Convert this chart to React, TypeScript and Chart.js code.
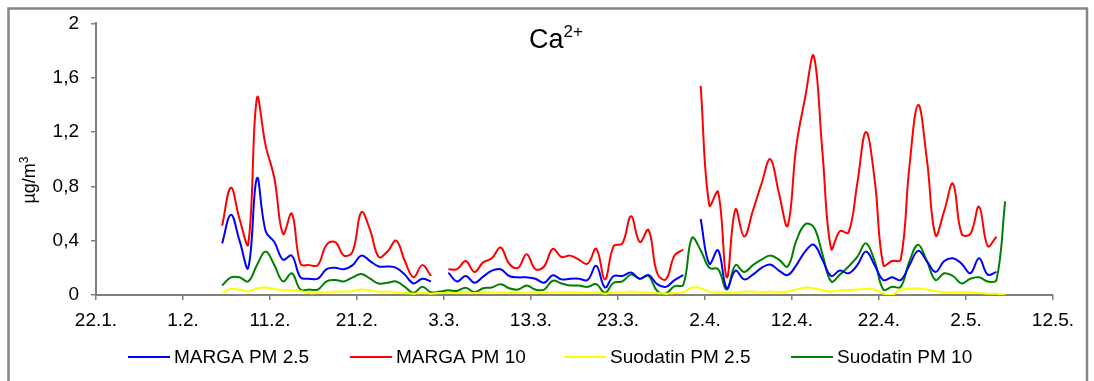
import React, { useEffect, useRef } from "react";
import { Chart, registerables } from "chart.js";

Chart.register(...registerables);

// Days counted from 22.1.; daily means are plotted at noon.
const firstSampleDay = 14.5; // 5.2.
const xTickLabels = ["22.1.", "1.2.", "11.2.", "21.2.", "3.3.", "13.3.", "23.3.", "2.4.", "12.4.", "22.4.", "2.5.", "12.5."];
const yTickValues = [0, 0.4, 0.8, 1.2, 1.6, 2];

const seriesNames = ["MARGA PM 2.5", "MARGA PM 10", "Suodatin PM 2.5", "Suodatin PM 10"];
const seriesColors = ["#0000FF", "#FF0000", "#FFFF00", "#008000"];

// Ca2+ concentrations, µg/m3, one value per day from 5.2.
const margaPm25 = [
  0.38, 0.59, 0.40, 0.20, 0.86, 0.47, 0.39, 0.26, 0.29, 0.13,
  0.12, 0.12, 0.19, 0.20, 0.19, 0.22, 0.29, 0.25, 0.21, 0.21,
  0.20, 0.15, 0.085, 0.12, 0.10, null, 0.165, 0.10, 0.14, 0.09,
  0.135, 0.18, 0.19, 0.14, 0.13, 0.13, 0.12, 0.09, 0.145, 0.115,
  0.12, 0.12, 0.11, 0.215, 0.056, 0.14, 0.14, 0.165, 0.12, 0.147,
  0.08, 0.06, 0.11, 0.147, null, 0.56, 0.23, 0.33, 0.05, 0.18,
  0.115, 0.15, 0.20, 0.225, 0.18, 0.147, 0.22, 0.32, 0.37, 0.26,
  0.14, 0.18, 0.16, 0.22, 0.32, 0.22, 0.11, 0.13, 0.11, 0.22,
  0.325, 0.25, 0.17, 0.25, 0.27, 0.23, 0.16, 0.27, 0.15, 0.17,
];

const margaPm10 = [
  0.51, 0.79, 0.56, 0.375, 1.45, 1.10, 0.86, 0.45, 0.60, 0.23,
  0.22, 0.22, 0.37, 0.39, 0.29, 0.32, 0.61, 0.48, 0.28, 0.32,
  0.40, 0.25, 0.13, 0.22, 0.14, null, 0.19, 0.19, 0.25, 0.17,
  0.24, 0.27, 0.35, 0.23, 0.20, 0.30, 0.19, 0.21, 0.34, 0.28,
  0.29, 0.26, 0.23, 0.34, 0.115, 0.36, 0.38, 0.58, 0.39, 0.48,
  0.16, 0.115, 0.29, 0.335, null, 1.54, 0.66, 0.76, 0.13, 0.63,
  0.43, 0.62, 0.82, 1.00, 0.75, 0.51, 1.10, 1.45, 1.76, 1.05,
  0.34, 0.47, 0.46, 0.82, 1.20, 0.85, 0.22, 0.25, 0.26, 0.95,
  1.40, 1.00, 0.44, 0.62, 0.82, 0.45, 0.45, 0.65, 0.36, 0.43,
];

const suodatinPm25 = [
  0.015, 0.045, 0.04, 0.025, 0.05, 0.055, 0.045, 0.035, 0.035, 0.03,
  0.015, 0.015, 0.02, 0.025, 0.025, 0.03, 0.04, 0.035, 0.025, 0.025,
  0.02, 0.015, 0.01, 0.015, 0.01, 0.015, 0.015, 0.015, 0.02, 0.015,
  0.02, 0.02, 0.02, 0.015, 0.015, 0.02, 0.015, 0.015, 0.02, 0.02,
  0.02, 0.02, 0.015, 0.02, 0.01, 0.02, 0.02, 0.025, 0.02, 0.02,
  0.015, 0.01, 0.015, 0.02, 0.055, 0.05, 0.025, 0.02, 0.015, 0.02,
  0.025, 0.025, 0.02, 0.025, 0.02, 0.025, 0.04, 0.055, 0.05, 0.035,
  0.025, 0.035, 0.035, 0.04, 0.045, 0.04, 0.01, 0.0, 0.04, 0.045,
  0.05, 0.04, 0.03, 0.02, 0.02, 0.02, 0.02, 0.015, 0.01, 0.01,
  0.005,
];

const suodatinPm10 = [
  0.07, 0.13, 0.13, 0.10, 0.22, 0.32, 0.22, 0.10, 0.16, 0.04,
  0.04, 0.04, 0.10, 0.11, 0.10, 0.13, 0.155, 0.12, 0.085, 0.09,
  0.10, 0.06, 0.015, 0.06, 0.02, 0.025, 0.035, 0.03, 0.054, 0.02,
  0.05, 0.055, 0.08, 0.05, 0.04, 0.07, 0.04, 0.04, 0.105, 0.085,
  0.07, 0.07, 0.06, 0.08, 0.017, 0.09, 0.10, 0.15, 0.12, 0.14,
  0.03, 0.012, 0.066, 0.075, 0.42, 0.33, 0.20, 0.19, 0.04, 0.22,
  0.17, 0.22, 0.26, 0.29, 0.26, 0.21, 0.40, 0.52, 0.50, 0.30,
  0.10, 0.15, 0.21, 0.28, 0.38, 0.25, 0.04, 0.06, 0.06, 0.25,
  0.37, 0.25, 0.11, 0.16, 0.14, 0.085, 0.12, 0.13, 0.10, 0.11,
  0.69,
];

const allSeries = [margaPm25, margaPm10, suodatinPm25, suodatinPm10];

const FONT = '"Liberation Sans", Arial, sans-serif';

const toPoints = (values: (number | null)[]) =>
  values.map((y, i) => ({ x: firstSampleDay + i, y }));

// Frame, title, unit label and legend drawn on top of the chart.
const decorations = {
  id: "decorations",
  afterDraw(chart: Chart) {
    const ctx = chart.ctx;
    ctx.save();

    // outer frame
    ctx.strokeStyle = "#868686";
    ctx.lineWidth = 2.5;
    ctx.strokeRect(8.5, 8.5, 1078.5, 420);

    ctx.fillStyle = "#000";
    ctx.textBaseline = "alphabetic";

    // title: Ca with superscript 2+
    ctx.font = `27px ${FONT}`;
    const base = "Ca";
    const sup = "2+";
    const wBase = ctx.measureText(base).width;
    ctx.font = `17px ${FONT}`;
    const wSup = ctx.measureText(sup).width;
    const tx = 556 - (wBase + wSup) / 2;
    ctx.font = `27px ${FONT}`;
    ctx.textAlign = "left";
    ctx.fillText(base, tx, 48);
    ctx.font = `17px ${FONT}`;
    ctx.fillText(sup, tx + wBase, 37);

    // unit label, rotated
    ctx.save();
    ctx.translate(35, 180);
    ctx.rotate(-Math.PI / 2);
    ctx.font = `18px ${FONT}`;
    const unit = "µg/m";
    const wUnit = ctx.measureText(unit).width;
    ctx.font = `12px ${FONT}`;
    const wCube = ctx.measureText("3").width;
    const ux = -(wUnit + wCube) / 2;
    ctx.font = `18px ${FONT}`;
    ctx.fillText(unit, ux, 0);
    ctx.font = `12px ${FONT}`;
    ctx.fillText("3", ux + wUnit, -7);
    ctx.restore();

    // legend
    const legendY = 357;
    const lineStarts = [128, 350, 564, 791];
    ctx.font = `19px ${FONT}`;
    ctx.textBaseline = "middle";
    seriesNames.forEach((name, i) => {
      const x0 = lineStarts[i];
      ctx.strokeStyle = seriesColors[i];
      ctx.lineWidth = 2;
      ctx.beginPath();
      ctx.moveTo(x0, legendY);
      ctx.lineTo(x0 + 42, legendY);
      ctx.stroke();
      ctx.fillStyle = "#000";
      ctx.fillText(name, x0 + 46, legendY + 1);
    });

    ctx.restore();
  },
};

export default function App() {
  const canvasRef = useRef<HTMLCanvasElement | null>(null);

  useEffect(() => {
    const canvas = canvasRef.current;
    if (!canvas) return;

    const chart = new Chart(canvas, {
      type: "line",
      data: {
        datasets: allSeries.map((values, i) => ({
          label: seriesNames[i],
          data: toPoints(values),
          borderColor: seriesColors[i],
          backgroundColor: seriesColors[i],
          borderWidth: 2,
          pointRadius: 0,
          tension: 0.4,
          spanGaps: false,
          fill: false,
        })),
      },
      options: {
        animation: false,
        responsive: false,
        devicePixelRatio: 1,
        layout: { padding: { top: 23, right: 41, left: 0, bottom: 0 } },
        plugins: {
          legend: { display: false },
          title: { display: false },
          tooltip: { enabled: false },
        },
        scales: {
          x: {
            type: "linear",
            min: 0,
            max: 110,
            afterFit: (s: any) => {
              s.height = 86;
            },
            afterBuildTicks: (s: any) => {
              s.ticks = xTickLabels.map((_, i) => ({ value: i * 10 }));
            },
            ticks: {
              autoSkip: false,
              maxRotation: 0,
              padding: 9,
              color: "#000",
              font: { family: FONT, size: 19 },
              callback: (v: any) => xTickLabels[Math.round(Number(v) / 10)] ?? "",
            },
            grid: {
              drawOnChartArea: false,
              drawTicks: true,
              tickLength: 5,
              color: "#808080",
              lineWidth: 1.5,
            },
            border: { color: "#808080", width: 2 },
          },
          y: {
            type: "linear",
            min: 0,
            max: 2,
            afterFit: (s: any) => {
              s.width = 96;
            },
            afterBuildTicks: (s: any) => {
              s.ticks = yTickValues.map((v) => ({ value: v }));
            },
            ticks: {
              padding: 12,
              color: "#000",
              font: { family: FONT, size: 19 },
              callback: (v: any) => String(Number(v)).replace(".", ","),
            },
            grid: {
              drawOnChartArea: false,
              drawTicks: true,
              tickLength: 5,
              color: "#808080",
              lineWidth: 1.5,
            },
            border: { color: "#808080", width: 2 },
          },
        },
      },
      plugins: [decorations],
    });

    return () => chart.destroy();
  }, []);

  return (
    <div style={{ position: "fixed", left: 0, top: 0, width: 1094, height: 381, background: "#fff" }}>
      <canvas ref={canvasRef} width={1094} height={381} style={{ display: "block", width: 1094, height: 381 }} />
    </div>
  );
}
